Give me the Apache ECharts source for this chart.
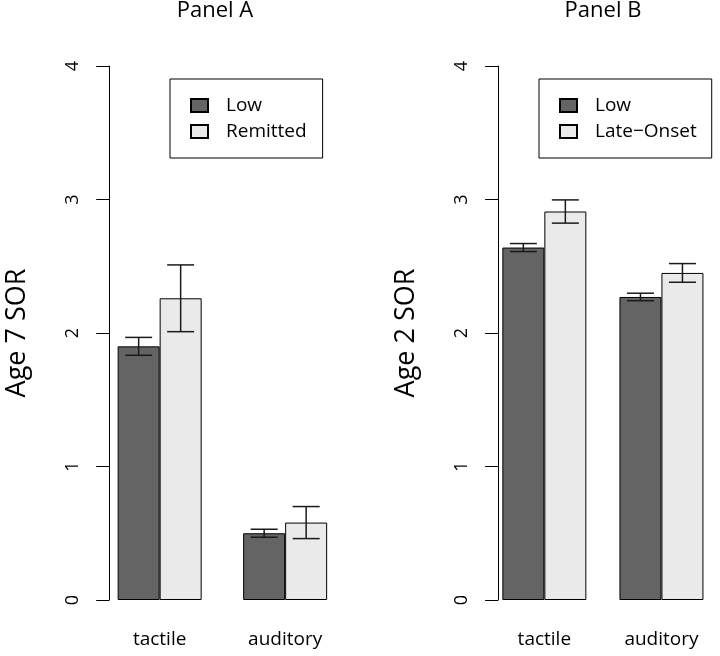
<!DOCTYPE html>
<html>
<head>
<meta charset="utf-8">
<script src="https://cdn.jsdelivr.net/npm/echarts@6/dist/echarts.min.js"></script>
<style>html,body{margin:0;padding:0;background:#fff;}#chart{width:720px;height:656px;}</style>
</head>
<body>
<div id="chart"></div>
<script>
// ---- data ----
const categories = ['tactile', 'auditory'];
const yTicks = [0, 1, 2, 3, 4];
// Panel A (Age 7 SOR)
const panelA_low = [1.90, 0.50];
const panelA_lowSE = [0.067, 0.03];
const panelA_remitted = [2.26, 0.58];
const panelA_remittedSE = [0.25, 0.12];
// Panel B (Age 2 SOR)
const panelB_low = [2.64, 2.27];
const panelB_lowSE = [0.03, 0.028];
const panelB_late = [2.91, 2.45];
const panelB_lateSE = [0.087, 0.07];

const FONT = 'Open Sans';
const DARK = '#646464';
const LIGHT = '#EAEAEA';
const BAR_W = 42;

function errData(m1, s1, m2, s2) {
  const out = [];
  for (let i = 0; i < m1.length; i++) {
    out.push([i, m1[i] - s1[i], m1[i] + s1[i], 0]);
    out.push([i, m2[i] - s2[i], m2[i] + s2[i], 1]);
  }
  return out;
}

function renderErr(params, api) {
  const cat = api.value(0), lo = api.value(1), hi = api.value(2), s = api.value(3);
  const p1 = api.coord([cat, lo]);
  const p2 = api.coord([cat, hi]);
  const x = p1[0] + (s === 0 ? -BAR_W / 2 : BAR_W / 2);
  const hw = 13.5;
  const st = { stroke: '#1a1a1a', lineWidth: 1.5 };
  return {
    type: 'group',
    children: [
      { type: 'line', shape: { x1: x, y1: p1[1], x2: x, y2: p2[1] }, style: st },
      { type: 'line', shape: { x1: x - hw, y1: p1[1], x2: x + hw, y2: p1[1] }, style: st },
      { type: 'line', shape: { x1: x - hw, y1: p2[1], x2: x + hw, y2: p2[1] }, style: st }
    ]
  };
}

function yAxisCfg(gridIndex, name) {
  return {
    type: 'value', gridIndex: gridIndex, min: yTicks[0], max: yTicks[yTicks.length - 1], interval: 1,
    offset: -12.3,
    name: name, nameLocation: 'middle', nameGap: 78,
    nameTextStyle: { fontFamily: FONT, fontSize: 27, color: '#000' },
    axisLine: { show: true, lineStyle: { color: '#000', width: 1 } },
    axisTick: { show: true, length: 13, lineStyle: { color: '#000', width: 1 } },
    splitLine: { show: false },
    axisLabel: { rotate: 90, margin: 27, fontFamily: FONT, fontSize: 18, color: '#000' }
  };
}
function xAxisCfg(gridIndex) {
  return {
    type: 'category', gridIndex: gridIndex, data: categories,
    axisLine: { show: false }, axisTick: { show: false },
    axisLabel: { margin: 30, fontFamily: FONT, fontSize: 19, color: '#000' }
  };
}
function barCfg(name, data, color, idx) {
  return {
    type: 'bar', name: name, data: data, xAxisIndex: idx, yAxisIndex: idx,
    barWidth: BAR_W, barGap: '0%',
    itemStyle: { color: color, borderColor: '#000', borderWidth: 1 }
  };
}

const option = {
  animation: false,
  backgroundColor: '#fff',
  title: [
    { text: 'Panel A', left: 215, top: 0, padding: 0, textAlign: 'center',
      textStyle: { fontFamily: FONT, fontSize: 22, fontWeight: 'normal', color: '#000' } },
    { text: 'Panel B', left: 603, top: 0, padding: 0, textAlign: 'center',
      textStyle: { fontFamily: FONT, fontSize: 22, fontWeight: 'normal', color: '#000' } }
  ],
  legend: [
    { data: ['Low', 'Remitted'], orient: 'vertical', left: 170, top: 79, icon: 'rect',
      padding: [17, 16, 17, 20], itemGap: 7, itemWidth: 17, itemHeight: 13,
      borderColor: '#000', borderWidth: 1, selectedMode: false,
      textStyle: { fontFamily: FONT, fontSize: 19, color: '#000', padding: [0, 0, 0, 13] } },
    { data: ['Low', 'Late\u2212Onset'], orient: 'vertical', left: 539, top: 79, icon: 'rect',
      padding: [17, 15, 17, 20], itemGap: 7, itemWidth: 17, itemHeight: 13,
      borderColor: '#000', borderWidth: 1, selectedMode: false,
      textStyle: { fontFamily: FONT, fontSize: 19, color: '#000', padding: [0, 0, 0, 13] } }
  ],
  grid: [
    { left: 96.9, top: 66, width: 251, height: 534 },
    { left: 485.8, top: 66, width: 250.7, height: 534 }
  ],
  xAxis: [xAxisCfg(0), xAxisCfg(1)],
  yAxis: [yAxisCfg(0, 'Age 7 SOR'), yAxisCfg(1, 'Age 2 SOR')],
  series: [
    barCfg('Low', panelA_low, DARK, 0),
    barCfg('Remitted', panelA_remitted, LIGHT, 0),
    barCfg('Low', panelB_low, DARK, 1),
    barCfg('Late\u2212Onset', panelB_late, LIGHT, 1),
    { type: 'custom', xAxisIndex: 0, yAxisIndex: 0, renderItem: renderErr, z: 5,
      data: errData(panelA_low, panelA_lowSE, panelA_remitted, panelA_remittedSE) },
    { type: 'custom', xAxisIndex: 1, yAxisIndex: 1, renderItem: renderErr, z: 5,
      data: errData(panelB_low, panelB_lowSE, panelB_late, panelB_lateSE) }
  ]
};
const chart = echarts.init(document.getElementById('chart'), null, { renderer: 'canvas' });
chart.setOption(option);
</script>
</body>
</html>
